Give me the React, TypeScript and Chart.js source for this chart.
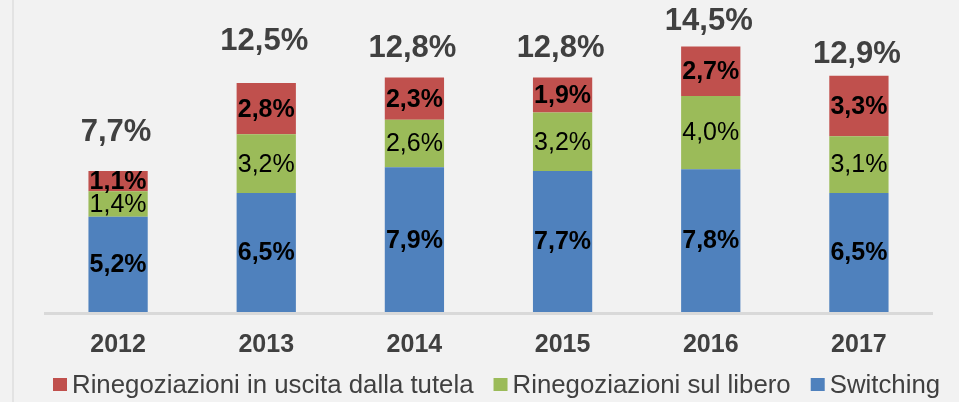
import React, { useEffect, useRef } from "react";
import { Chart, registerables } from "chart.js";

Chart.register(...registerables);

const years = ["2012", "2013", "2014", "2015", "2016", "2017"];
const switching = [5.2, 6.5, 7.9, 7.7, 7.8, 6.5];
const libero = [1.4, 3.2, 2.6, 3.2, 4.0, 3.1];
const tutela = [1.1, 2.8, 2.3, 1.9, 2.7, 3.3];
const totals = [7.7, 12.5, 12.8, 12.8, 14.5, 12.9];

const seriesNames = [
  "Switching",
  "Rinegoziazioni sul libero",
  "Rinegoziazioni in uscita dalla tutela",
];

const COLORS = {
  blue: "#4f81bd",
  green: "#9bbb59",
  red: "#c0504d",
  bg: "#f2f2f2",
  text: "#404040",
  axis: "#d9d9d9",
};

const FONT = "'Liberation Sans', Arial, sans-serif";

// pixel gaps between bar top and total label baseline (layout only)
const totalGap = [30, 33, 21, 21, 16, 13];

const fmt = (v: number) => v.toFixed(1).replace(".", ",") + "%";

const decorPlugin = {
  id: "decor",
  beforeDraw(chart: any) {
    const { ctx, width, height } = chart;
    ctx.save();
    ctx.fillStyle = COLORS.bg;
    ctx.fillRect(0, 0, width, height);
    ctx.fillStyle = "#e3e3e3";
    ctx.fillRect(12, 0, 2, height);
    ctx.restore();
  },
  afterDatasetsDraw(chart: any) {
    const { ctx, chartArea } = chart;
    ctx.save();
    // axis line
    ctx.fillStyle = COLORS.axis;
    ctx.fillRect(chartArea.left, chartArea.bottom, chartArea.right - chartArea.left, 3);

    // segment labels
    ctx.textAlign = "center";
    ctx.textBaseline = "middle";
    chart.data.datasets.forEach((ds: any, di: number) => {
      const meta = chart.getDatasetMeta(di);
      ctx.font = (di === 1 ? "normal" : "bold") + " 25px " + FONT;
      ctx.fillStyle = "#000000";
      meta.data.forEach((el: any, i: number) => {
        const v = ds.data[i];
        const yc = (el.y + el.base) / 2;
        ctx.fillText(fmt(v), el.x, yc + 1);
      });
    });

    // totals
    const topMeta = chart.getDatasetMeta(chart.data.datasets.length - 1);
    ctx.font = "bold 31px " + FONT;
    ctx.fillStyle = COLORS.text;
    ctx.textBaseline = "alphabetic";
    topMeta.data.forEach((el: any, i: number) => {
      ctx.fillText(fmt(totals[i]), el.x - 2, el.y - totalGap[i]);
    });

    // legend
    const items = [
      { label: seriesNames[2], color: COLORS.red },
      { label: seriesNames[1], color: COLORS.green },
      { label: seriesNames[0], color: COLORS.blue },
    ];
    ctx.font = "25.8px " + FONT;
    ctx.textAlign = "left";
    ctx.textBaseline = "middle";
    let x = 53;
    const yc = 384.5;
    items.forEach((it) => {
      ctx.fillStyle = it.color;
      ctx.fillRect(x, yc - 6.5, 14, 13);
      x += 19;
      ctx.fillStyle = COLORS.text;
      ctx.fillText(it.label, x, yc + 1);
      x += ctx.measureText(it.label).width + 20;
    });
    ctx.restore();
  },
};

export default function App() {
  const ref = useRef<HTMLCanvasElement | null>(null);

  useEffect(() => {
    if (!ref.current) return;
    const chart = new Chart(ref.current, {
      type: "bar",
      data: {
        labels: years,
        datasets: [
          { label: seriesNames[0], data: switching, backgroundColor: COLORS.blue },
          { label: seriesNames[1], data: libero, backgroundColor: COLORS.green },
          { label: seriesNames[2], data: tutela, backgroundColor: COLORS.red },
        ],
      },
      options: {
        animation: false,
        responsive: false,
        maintainAspectRatio: false,
        datasets: { bar: { barPercentage: 0.4, categoryPercentage: 1 } },
        layout: { padding: { left: 44, right: 26, top: 19, bottom: 24 } },
        plugins: {
          legend: { display: false },
          tooltip: { enabled: false },
        },
        scales: {
          x: {
            stacked: true,
            grid: { display: false, drawTicks: false },
            border: { display: false },
            ticks: {
              padding: 18,
              color: COLORS.text,
              font: { family: FONT, size: 25, weight: "bold" },
            },
          },
          y: {
            stacked: true,
            display: false,
            min: 0,
            max: 16,
          },
        },
      },
      plugins: [decorPlugin],
    });
    return () => chart.destroy();
  }, []);

  return (
    <div style={{ position: "fixed", left: 0, top: 0, width: 959, height: 402, background: COLORS.bg }}>
      <canvas ref={ref} width={959} height={402} style={{ display: "block" }} />
    </div>
  );
}
